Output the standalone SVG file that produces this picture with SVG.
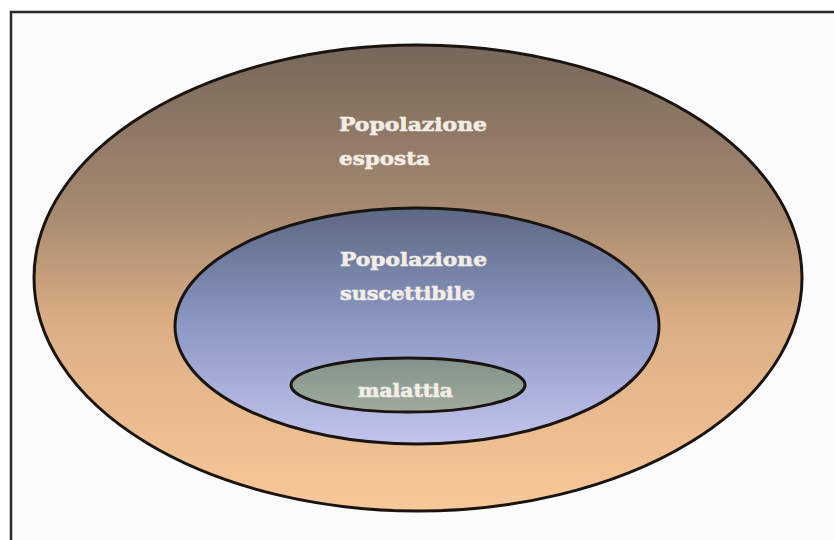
<svg xmlns="http://www.w3.org/2000/svg" width="834" height="540" viewBox="0 0 834 540">
  <defs>
    <linearGradient id="gOuter" x1="0" y1="0" x2="0" y2="1">
      <stop offset="0" stop-color="#76675a"/>
      <stop offset="0.35" stop-color="#a58970"/>
      <stop offset="0.6" stop-color="#dcae84"/>
      <stop offset="1" stop-color="#f7c899"/>
    </linearGradient>
    <linearGradient id="gMid" x1="0" y1="0" x2="0" y2="1">
      <stop offset="0" stop-color="#5c6883"/>
      <stop offset="0.5" stop-color="#8d98c5"/>
      <stop offset="1" stop-color="#c2c5ec"/>
    </linearGradient>
    <linearGradient id="gSmall" x1="0" y1="0" x2="0" y2="1">
      <stop offset="0" stop-color="#83928a"/>
      <stop offset="1" stop-color="#a0ab9c"/>
    </linearGradient>
    <style>
      .lbl { font-family: "DejaVu Serif", serif; font-weight: bold; fill: #f2eee6; stroke: #f2eee6; stroke-width: 0.6; }
      .ring { stroke: #1a1410; stroke-width: 3; }
    </style>
  </defs>
  <rect x="0" y="0" width="834" height="540" fill="#ffffff"/>
  <rect x="11" y="12" width="823" height="528" fill="#fbfbfb"/>
  <path d="M11,540 V12 H834" fill="none" stroke="#2a2a2a" stroke-width="2.5"/>

  <g id="popolazione-esposta">
    <ellipse cx="418" cy="278" rx="384" ry="233" fill="url(#gOuter)" class="ring"/>
    <text class="lbl" x="339" y="131" font-size="19" textLength="148" lengthAdjust="spacingAndGlyphs">Popolazione</text>
    <text class="lbl" x="339" y="165" font-size="19" textLength="91" lengthAdjust="spacingAndGlyphs">esposta</text>
  </g>

  <g id="popolazione-suscettibile">
    <ellipse cx="417" cy="326" rx="242" ry="118" fill="url(#gMid)" class="ring"/>
    <text class="lbl" x="340" y="266" font-size="19" textLength="147" lengthAdjust="spacingAndGlyphs">Popolazione</text>
    <text class="lbl" x="340" y="300" font-size="19" textLength="135" lengthAdjust="spacingAndGlyphs">suscettibile</text>
  </g>

  <g id="malattia">
    <ellipse cx="408" cy="385" rx="117" ry="27" fill="url(#gSmall)" class="ring"/>
    <text class="lbl" x="358" y="397" font-size="18" textLength="95" lengthAdjust="spacingAndGlyphs">malattia</text>
  </g>

  <g id="connectors"/>
</svg>
